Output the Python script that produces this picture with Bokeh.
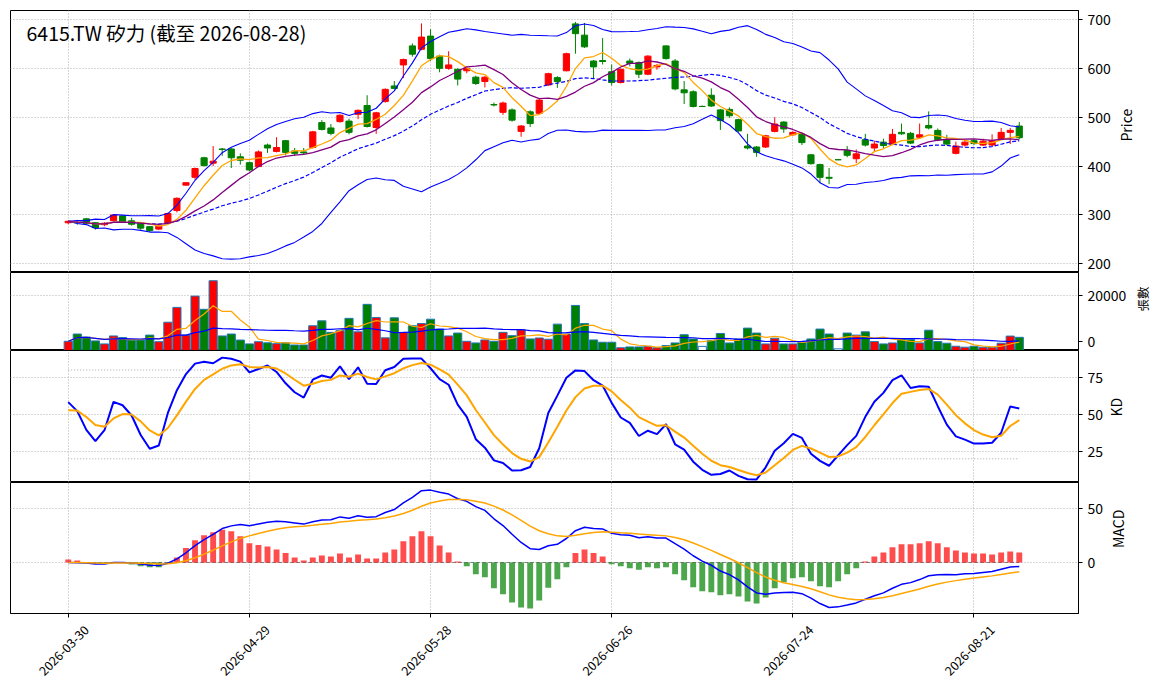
import numpy as np
import pandas as pd
from math import pi
from bokeh.plotting import figure
from bokeh.layouts import column
from bokeh.models import Range1d, FixedTicker, Label, ColumnDataSource
from bokeh.embed import file_html
from bokeh.resources import INLINE

title_text = "6415.TW 矽力 (截至 2026-08-28)"
tick_idx = [0, 20, 40, 60, 80, 100]
tick_labels = ["2026-03-30", "2026-04-29", "2026-05-28", "2026-06-26", "2026-07-24", "2026-08-21"]

opens = [284, 285, 292, 284, 280, 288, 298, 288, 283, 276,
         271, 283, 309, 361, 377, 417, 406, 435, 435, 419,
         407, 399, 443, 430, 452, 431, 429, 438, 489, 478,
         491, 492, 506, 524, 479, 532, 564, 607, 646, 639,
         666, 625, 600, 598, 595, 582, 573, 526, 510, 515,
         471, 511, 508, 566, 581, 595, 691, 668, 615, 616,
         593, 571, 615, 612, 588, 603, 646, 615, 556, 552,
         522, 545, 515, 516, 495, 441, 439, 439, 471, 490,
         464, 465, 423, 403, 377, 413, 432, 415, 454, 437,
         449, 445, 469, 467, 459, 483, 473, 454, 426, 443,
         452, 443, 443, 456, 469, 482]
closes = [287, 284, 282, 274, 283, 300, 286, 281, 273, 268,
          277, 303, 334, 366, 395, 401, 410, 434, 417, 412,
          392, 429, 437, 438, 428, 426, 427, 470, 475, 467,
          504, 469, 514, 481, 509, 557, 559, 618, 629, 664,
          620, 600, 607, 578, 600, 569, 582, 525, 529, 494,
          482, 487, 535, 589, 573, 630, 671, 644, 603, 614,
          571, 598, 610, 588, 625, 606, 620, 558, 550, 522,
          522, 523, 493, 503, 472, 437, 428, 462, 486, 476,
          469, 448, 405, 377, 375, 413, 422, 425, 443, 445,
          442, 465, 466, 447, 464, 478, 454, 445, 441, 449,
          446, 451, 452, 469, 473, 458]
highs = [289, 290, 294, 285, 285, 301, 299, 294, 284, 277,
         279, 305, 336, 367, 397, 419, 441, 437, 437, 426,
         409, 432, 446, 459, 453, 437, 437, 472, 494, 486,
         506, 497, 516, 545, 511, 559, 574, 620, 651, 692,
         680, 628, 635, 600, 603, 585, 584, 530, 532, 518,
         484, 514, 537, 591, 584, 632, 695, 693, 617, 662,
         608, 600, 620, 614, 627, 609, 647, 619, 574, 555,
         524, 559, 517, 520, 497, 466, 441, 464, 500, 492,
         471, 467, 425, 405, 396, 414, 441, 434, 466, 452,
         456, 476, 487, 470, 487, 512, 477, 464, 450, 454,
         455, 456, 465, 478, 478, 490]
lows = [281, 280, 281, 270, 277, 287, 284, 278, 270, 265,
        269, 282, 305, 360, 372, 399, 400, 421, 396, 403,
        389, 398, 427, 428, 422, 421, 424, 436, 473, 463,
        489, 465, 496, 479, 466, 530, 557, 580, 624, 637,
        615, 592, 597, 565, 590, 566, 561, 522, 505, 491,
        460, 480, 506, 564, 560, 594, 630, 642, 580, 608,
        565, 569, 604, 580, 586, 597, 618, 555, 527, 520,
        521, 521, 474, 499, 470, 434, 419, 437, 469, 468,
        462, 443, 403, 365, 363, 412, 418, 406, 440, 430,
        437, 443, 464, 445, 457, 475, 451, 443, 424, 440,
        443, 441, 441, 454, 445, 455]
volumes = [3350, 6000, 4900, 3500, 2400, 5300, 4700, 3800, 3800, 5600,
           3200, 10300, 15700, 5600, 19800, 15000, 25400, 5300, 6000, 3800,
           2400, 3200, 2800, 2500, 2800, 2000, 2000, 9000, 10800, 6600,
           7200, 11700, 6800, 16800, 12000, 4600, 11900, 6600, 9000, 9800,
           11400, 7800, 5300, 6350, 3350, 2750, 3850, 3350, 6600, 5400,
           7550, 4200, 4550, 4100, 9600, 6000, 16400, 9800, 3850, 3000,
           3000, 1000, 1300, 1300, 1550, 1000, 1800, 2750, 5750, 4200,
           1500, 3600, 6200, 2750, 4200, 8150, 6350, 2400, 4450, 2400,
           2400, 3000, 4200, 7800, 6000, 600, 6350, 5600, 6800, 3250,
           2400, 2750, 4200, 3950, 2750, 7400, 3250, 2650, 1550, 1200,
           1550, 1200, 1200, 2650, 5250, 4800]
macd_hist = [2.8, 1.9, 0.3, -1.5, -1.5, -0.3, -0.5, -1.9, -3.4, -4.3,
             -4.3, 0.3, 4.7, 13.4, 20.5, 25.2, 28.0, 30.4, 28.9, 24.2,
             17.7, 16.1, 14.9, 12.1, 8.7, 4.7, 1.9, 4.7, 6.5, 5.6,
             8.4, 4.7, 7.5, 3.7, 3.7, 9.3, 12.1, 19.6, 24.2, 28.9,
             24.2, 15.8, 9.3, 0.9, -3.4, -10.9, -13.7, -23.9, -29.5, -37.0,
             -41.6, -42.5, -35.1, -23.3, -15.5, -4.3, 8.7, 12.1, 8.7, 5.6,
             -1.6, -3.4, -5.3, -6.8, -4.3, -5.3, -4.3, -10.9, -16.5, -23.0,
             -26.7, -27.6, -30.4, -29.5, -31.4, -36.0, -37.9, -32.3, -23.9, -18.3,
             -14.6, -13.7, -17.4, -22.0, -23.0, -17.4, -10.9, -5.3, 0.9, 5.6,
             9.3, 14.0, 16.8, 16.8, 17.7, 19.6, 17.7, 14.0, 11.2, 9.3,
             8.4, 8.4, 7.5, 9.3, 10.2, 9.3]

n = len(closes)
x = np.arange(n)
o = pd.Series(opens, dtype=float)
c = pd.Series(closes, dtype=float)
h = pd.Series(highs, dtype=float)
l = pd.Series(lows, dtype=float)
v = pd.Series(volumes, dtype=float)

ma5 = c.rolling(5, min_periods=1).mean()
ma10 = c.rolling(10, min_periods=1).mean()
ma20 = c.rolling(20, min_periods=1).mean()
sd20 = c.rolling(20, min_periods=1).std(ddof=0).fillna(0)
bb_up = ma20 + 2 * sd20
bb_dn = ma20 - 2 * sd20
vma5 = v.rolling(5, min_periods=1).mean()
vma20 = v.rolling(20, min_periods=1).mean()

low9 = l.rolling(9, min_periods=1).min()
high9 = h.rolling(9, min_periods=1).max()
rng = (high9 - low9).replace(0, np.nan)
rsv = ((c - low9) / rng * 100).fillna(50)
K, D = [], []
kk, dd = 50.0, 50.0
for r in rsv:
    kk = kk * 2 / 3 + r / 3
    dd = dd * 2 / 3 + kk / 3
    K.append(kk)
    D.append(dd)

ema12 = c.ewm(span=12, adjust=False).mean()
ema26 = c.ewm(span=26, adjust=False).mean()
dif = ema12 - ema26
dea = dif.ewm(span=9, adjust=False).mean()

RED = "#ff0000"
GREEN = "#008000"
candle_col = [RED if cc > oo else GREEN for oo, cc in zip(opens, closes)]
vol_col = [RED if cc > oo else (GREEN if cc < oo else "white") for oo, cc in zip(opens, closes)]
hist_col = [RED if hv >= 0 else GREEN for hv in macd_hist]

src = ColumnDataSource(dict(
    x=x, o=o, c=c, h=h, l=l, v=v,
    top=np.maximum(o, c), bot=np.minimum(o, c),
    ccol=candle_col, vcol=vol_col, hcol=hist_col, hist=macd_hist,
    ma5=ma5, ma10=ma10, ma20=ma20, up=bb_up, dn=bb_dn,
    vma5=vma5, vma20=vma20, K=K, D=D, dif=dif, dea=dea,
))

FONT = "Noto Sans CJK TC"
PX = 9.1
xr = Range1d(-58 / PX, -58 / PX + 1073 / PX)

common = dict(width=1164, x_range=xr, y_axis_location="right", toolbar_location=None,
              output_backend="svg", min_border_left=10, min_border_right=81,
              background_fill_color="white", border_fill_color="white",
              outline_line_color="black", outline_line_width=1)


def style(p, yticks, label, label_size="14px", label_standoff=12, grid_ticks=None):
    p.yaxis.ticker = FixedTicker(ticks=yticks)
    p.yaxis.major_label_text_font = FONT
    p.yaxis.major_label_text_font_size = "14px"
    p.yaxis.major_label_text_color = "black"
    p.yaxis.major_tick_out = 4
    p.yaxis.major_tick_in = 0
    p.yaxis.minor_tick_line_color = None
    p.yaxis.axis_line_color = "black"
    p.yaxis.major_label_standoff = 5
    p.yaxis.axis_label = label
    p.yaxis.axis_label_text_font = FONT
    p.yaxis.axis_label_text_font_size = label_size
    p.yaxis.axis_label_text_font_style = "normal"
    p.yaxis.axis_label_text_color = "black"
    p.yaxis.axis_label_standoff = label_standoff
    p.yaxis.axis_label_orientation = pi / 2
    p.xgrid.ticker = FixedTicker(ticks=tick_idx)
    p.ygrid.ticker = FixedTicker(ticks=grid_ticks if grid_ticks is not None else yticks)
    p.grid.grid_line_color = "#b0b0b0"
    p.grid.grid_line_dash = "1 2"
    p.grid.grid_line_width = 1
    p.xaxis.visible = False


# price panel
yr_p = Range1d(182.2, 718.4)
p1 = figure(height=272, y_range=yr_p, min_border_top=10, min_border_bottom=0, **common)
style(p1, [200, 300, 400, 500, 600, 700], "Price", label_standoff=12)
p1.segment("x", "h", "x", "l", color="ccol", line_width=1, source=src)
p1.vbar("x", 0.68, "top", "bot", fill_color="ccol", line_color="ccol", line_width=1, source=src)
p1.line("x", "up", color="blue", line_width=1.1, source=src)
p1.line("x", "dn", color="blue", line_width=1.1, source=src)
p1.line("x", "ma20", color="blue", line_width=1.2, line_dash="4 2", source=src)
p1.line("x", "ma5", color="orange", line_width=1.3, source=src)
p1.line("x", "ma10", color="purple", line_width=1.3, source=src)
p1.add_layout(Label(x=xr.start, x_offset=16, y=703, text=title_text, text_font=FONT,
                    text_font_size="19.5px", text_baseline="top", text_align="left",
                    text_color="black"))

# volume panel ("0" label lifted a little so that it stays inside this panel)
yr_v = Range1d(0, 28400)
vol_zero_tick = 3400
p2 = figure(height=78, y_range=yr_v, min_border_top=0, min_border_bottom=0, **common)
style(p2, [vol_zero_tick, 20000], "張數", "12.5px", label_standoff=13, grid_ticks=[0, 20000])
p2.yaxis.major_label_overrides = {vol_zero_tick: "0"}
p2.vbar("x", 0.9, "v", 0, fill_color="vcol", line_color="#1f77b4", line_width=1, source=src)
p2.line("x", "vma5", color="orange", line_width=1.2, source=src)
p2.line("x", "vma20", color="blue", line_width=1.2, source=src)

# KD panel
yr_k = Range1d(4.0, 93.2)
p3 = figure(height=132, y_range=yr_k, min_border_top=0, min_border_bottom=0, **common)
style(p3, [25, 50, 75], "KD", label_standoff=10)
for lvl in (80, 20):
    p3.line([x[0], x[-1]], [lvl, lvl], color="gray", line_dash="1 2", line_width=1, alpha=0.7)
p3.line("x", "K", color="blue", line_width=2, source=src)
p3.line("x", "D", color="orange", line_width=2, source=src)

# MACD panel
yr_m = Range1d(-47.2, 74.0)
p4 = figure(height=208, y_range=yr_m, min_border_top=0, min_border_bottom=77, **common)
style(p4, [0, 50], "MACD", label_standoff=12)
p4.line([x[0], x[-1]], [0, 0], color="gray", line_dash="4 2", line_width=1)
p4.vbar("x", 0.65, "hist", 0, fill_color="hcol", fill_alpha=0.7, line_color=None, source=src)
p4.line("x", "dif", color="blue", line_width=1.5, source=src)
p4.line("x", "dea", color="orange", line_width=1.5, source=src)

# bottom axis: tick marks (as minor ticks) at the dates; the rotated date labels sit on
# major ticks shifted right so that each label is centred on its date tick
SHIFT = 2
lab_ticks = [t + SHIFT for t in tick_idx]
p4.xaxis.visible = True
p4.xaxis.ticker = FixedTicker(ticks=lab_ticks, minor_ticks=tick_idx)
p4.xaxis.major_label_overrides = {t + SHIFT: s for t, s in zip(tick_idx, tick_labels)}
p4.xaxis.major_label_orientation = pi / 4
p4.xaxis.major_label_standoff = 10
p4.xaxis.major_label_text_font = FONT
p4.xaxis.major_label_text_font_size = "12.5px"
p4.xaxis.major_label_text_color = "black"
p4.xaxis.major_tick_line_color = None
p4.xaxis.major_tick_out = 0
p4.xaxis.major_tick_in = 0
p4.xaxis.minor_tick_line_color = "black"
p4.xaxis.minor_tick_out = 4
p4.xaxis.minor_tick_in = 0
p4.xaxis.axis_line_color = "black"

layout = column(p1, p2, p3, p4, spacing=0)
open("out.html", "w").write(file_html(layout, INLINE, "6415.TW"))
